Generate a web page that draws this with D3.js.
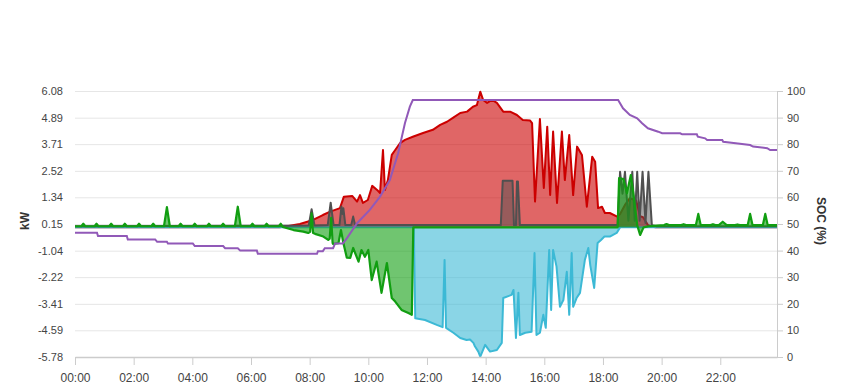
<!DOCTYPE html>
<html><head><meta charset="utf-8">
<script src="https://cdn.jsdelivr.net/npm/d3@7"></script>
<style>body{margin:0;background:#fff}svg{display:block;font-family:"Liberation Sans",Arial,sans-serif}</style>
</head><body><svg id="c" width="849" height="390"></svg>
<script>
// ---- data (time in minutes of day, value) ----
const xTickMinutes = [0,120,240,360,480,600,720,840,960,1080,1200,1320];
const xTickLabels = ["00:00","02:00","04:00","06:00","08:00","10:00","12:00","14:00","16:00","18:00","20:00","22:00"];
const kwTickLabels = ["6.08","4.89","3.71","2.52","1.34","0.15","-1.04","-2.22","-3.41","-4.59","-5.78"];
const socTickLabels = [100,90,80,70,60,50,40,30,20,10,0];

const pvSeries = [[0,0],[419,0],[460,0.15],[487,0.33],[507,0.55],[522,0.70],[542,0.86],[550,1.37],[567,1.40],[577,1.15],[583,1.44],[589,1.09],[599,1.22],[608,1.85],[618,1.67],[624,1.53],[630,3.45],[634,1.67],[640,2.11],[648,3.23],[655,3.45],[665,3.76],[675,3.90],[691,4.04],[712,4.21],[732,4.35],[747,4.57],[761,4.71],[773,4.88],[788,5.10],[802,5.16],[814,5.38],[822,5.45],[829,6.05],[835,5.68],[843,5.55],[853,5.68],[863,5.55],[876,5.16],[890,5.16],[904,5.01],[916,4.79],[931,4.76],[935,4.65],[941,1.15],[951,4.83],[959,1.76],[966,4.49],[972,1.44],[978,4.27],[986,1.09],[996,4.27],[1002,2.11],[1011,4.12],[1019,1.44],[1027,3.60],[1037,3.23],[1047,0.92],[1058,3.15],[1064,2.93],[1070,0.86],[1078,0.92],[1084,0.64],[1094,0.64],[1109,0.48],[1115,0.6],[1125,1.0],[1135,1.3],[1148,1.2],[1156,0.5],[1162,0.45],[1172,0.1],[1187,0],[1436,0]];

const loadSeries = [[0,0],[693,0],[696,-4.05],[716,-4.13],[740,-4.35],[752,-4.45],[756,-1.45],[759,-4.48],[774,-4.70],[788,-4.93],[801,-5.02],[808,-5.0],[815,-5.15],[818,-5.3],[825,-5.54],[829,-5.76],[839,-5.24],[849,-5.54],[863,-5.47],[873,-5.15],[876,-3.15],[893,-3.01],[897,-2.79],[902,-4.93],[907,-2.92],[910,-4.80],[921,-4.70],[934,-4.65],[940,-1.14],[944,-4.80],[951,-4.70],[958,-3.90],[963,-4.48],[970,-1.01],[974,-3.68],[978,-1.01],[985,-1.75],[992,-3.54],[999,-3.24],[1006,-1.98],[1011,-3.90],[1016,-1.14],[1019,-3.54],[1026,-3.15],[1033,-2.92],[1043,-1.45],[1050,-0.92],[1054,-1.68],[1062,-2.70],[1069,-0.70],[1076,-0.56],[1083,-0.41],[1094,-0.41],[1108,-0.25],[1115,0],[1436,0]];

const gridSeries = [[0,0.05],[478,0.08],[484,0.81],[490,0.08],[517,0.1],[523,1.10],[529,0.1],[541,0.1],[545,0.93],[547,0.6],[549,0.85],[553,0.1],[565,0.1],[569,0.48],[573,0.1],[871,0.1],[875,2.08],[895,2.08],[898,0.1],[902,0.1],[904,2.05],[906,2.05],[910,0.1],[1110,0.1],[1115,2.48],[1120,1.5],[1125,2.48],[1132,0.3],[1140,2.48],[1145,0.3],[1150,2.48],[1155,0.3],[1161,2.48],[1167,0.2],[1173,2.48],[1180,0.1],[1190,0.05],[1436,0.05]];

const batterySeries = [[0,0.05],[13,0.05],[17,0.16],[21,0.05],[40,0.05],[44,0.16],[48,0.05],[70,0.05],[74,0.16],[78,0.05],[98,0.05],[102,0.16],[106,0.05],[127,0.05],[131,0.16],[135,0.05],[156,0.05],[160,0.16],[164,0.05],[182,0.05],[188,0.90],[194,0.05],[212,0.05],[216,0.16],[220,0.05],[241,0.05],[245,0.16],[249,0.05],[270,0.05],[274,0.16],[278,0.05],[299,0.05],[303,0.16],[307,0.05],[327,0.05],[333,0.92],[339,0.05],[359,0.05],[363,0.16],[367,0.05],[388,0.05],[392,0.16],[396,0.05],[417,0.05],[421,0.16],[425,0.02],[447,-0.12],[467,-0.19],[477,-0.25],[481,-0.2],[484,0.63],[487,-0.25],[491,-0.29],[508,-0.41],[518,-0.56],[521,-0.5],[524,0.42],[527,-0.7],[528,-0.74],[539,-0.70],[544,-0.12],[549,-0.70],[556,-1.35],[563,-1.36],[569,-0.92],[580,-1.53],[586,-1.01],[593,-1.31],[600,-1.01],[607,-2.35],[617,-1.53],[627,-2.92],[638,-1.59],[648,-3.15],[655,-3.31],[668,-3.68],[682,-3.82],[689,-3.90],[692,0],[1110,0],[1113,2.20],[1122,2.15],[1129,1.52],[1137,2.33],[1144,1.2],[1150,0.1],[1156,-0.34],[1163,0.0],[1173,0.05],[1190,0.08],[1205,0.1],[1210,0.15],[1215,0.1],[1240,0.1],[1245,0.14],[1250,0.1],[1270,0.1],[1275,0.60],[1280,0.1],[1300,0.1],[1305,0.14],[1310,0.1],[1317,0.1],[1325,0.25],[1333,0.1],[1350,0.1],[1355,0.13],[1360,0.1],[1376,0.1],[1381,0.60],[1386,0.1],[1407,0.1],[1412,0.60],[1417,0.1],[1436,0.1]];

const socSeries = [[0,46.7],[45,46.7],[47,45.5],[106,45.5],[108,44.2],[164,44.2],[168,43.3],[188,43.3],[190,42.7],[241,42.7],[245,41.7],[303,41.7],[307,40.9],[333,40.9],[338,40.0],[372,40.0],[374,38.8],[495,38.8],[497,39.8],[507,39.8],[511,40.9],[528,40.9],[532,42.7],[548,42.7],[556,44.6],[577,50.3],[603,55.3],[624,60.3],[644,66.5],[661,76.6],[675,88.0],[685,94.1],[691,96.6],[1111,96.6],[1121,93.5],[1135,91.0],[1150,89.7],[1160,87.9],[1172,86.0],[1193,84.7],[1201,84.1],[1238,84.1],[1242,83.7],[1272,83.7],[1274,82.8],[1289,82.2],[1293,81.6],[1324,81.6],[1326,80.9],[1356,80.3],[1381,79.7],[1387,79.1],[1416,78.5],[1422,77.8],[1436,77.8]];

// ---- layout ----
const L = 75, R = 777, T = 91, B = 357;
const svg = d3.select("#c");
const x = d3.scaleLinear().domain([0, 1436]).range([L, R]);
const y = d3.scaleLinear().domain([-5.78, 6.08]).range([B, T]);
const ySoc = d3.scaleLinear().domain([0, 100]).range([B, T]);
const kwTicks = kwTickLabels.map(Number);

// grid + left labels
const gl = svg.append("g").attr("transform", `translate(${L},0)`)
  .call(d3.axisLeft(y).tickValues(kwTicks).tickSize(-(R - L)).tickPadding(12)
    .tickFormat((d, i) => kwTickLabels[i]));
gl.select(".domain").remove();
gl.selectAll("line").attr("stroke", "#e6e6e6");
gl.selectAll("text").attr("fill", "#444").style("font-size", "11px");

// series
const area = d3.area().x(d => x(d[0])).y0(y(0)).y1(d => y(d[1]));
const line = d3.line().x(d => x(d[0])).y(d => y(d[1]));
function drawArea(data, stroke, op, sw) {
  svg.append("path").datum(data).attr("d", area).attr("fill", stroke).attr("fill-opacity", op);
  svg.append("path").datum(data).attr("d", line).attr("fill", "none").attr("stroke", stroke)
    .attr("stroke-width", sw).attr("stroke-linejoin", "round");
}
drawArea(pvSeries, "#cc0000", 0.6, 2);
drawArea(loadSeries, "#3cb9d5", 0.6, 2);
drawArea(gridSeries, "#505050", 0.5, 2);
drawArea(batterySeries, "#119e11", 0.6, 2.2);

const socLine = d3.line().x(d => x(d[0])).y(d => ySoc(d[1]));
svg.append("path").datum(socSeries).attr("d", socLine).attr("fill", "none")
  .attr("stroke", "#9159b8").attr("stroke-width", 2);

// bottom axis
const gb = svg.append("g").attr("transform", `translate(0,${B})`)
  .call(d3.axisBottom(x).tickValues(xTickMinutes).tickSize(8).tickSizeOuter(0).tickPadding(8)
    .tickFormat((d, i) => xTickLabels[i]));
gb.select(".domain").attr("stroke", "#ccc").attr("stroke-width", 1.5);
gb.selectAll("line").attr("stroke", "#ccc");
gb.selectAll("text").attr("fill", "#444").style("font-size", "12px");

// right axis
const gr = svg.append("g").attr("transform", `translate(${R},0)`)
  .call(d3.axisRight(ySoc).tickValues(socTickLabels).tickSize(6).tickSizeOuter(0).tickPadding(4));
gr.select(".domain").attr("stroke", "#ccc");
gr.selectAll("line").attr("stroke", "#ccc");
gr.selectAll("text").attr("fill", "#444").style("font-size", "11px");

// titles
svg.append("text").attr("transform", "translate(29,221) rotate(-90)").attr("text-anchor", "middle")
  .style("font-size", "12px").style("font-weight", "bold").attr("fill", "#333").text("kW");
svg.append("text").attr("transform", "translate(817,221) rotate(90)").attr("text-anchor", "middle")
  .style("font-size", "12px").style("font-weight", "bold").attr("fill", "#333").text("SOC (%)");
</script></body></html>
